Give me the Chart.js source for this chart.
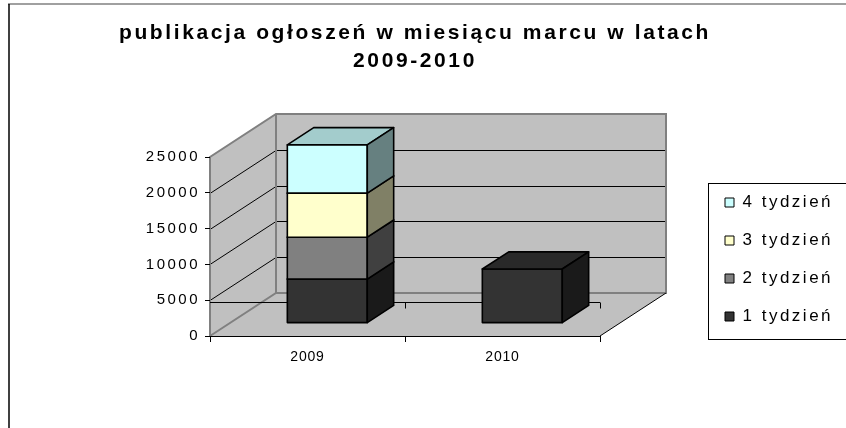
<!DOCTYPE html>
<html>
<head>
<meta charset="utf-8">
<script src="https://cdn.jsdelivr.net/npm/chart.js@4.4.0/dist/chart.umd.min.js"></script>
<style>
  html, body { margin: 0; padding: 0; background: #fff; }
  #wrap { width: 846px; height: 428px; position: relative; }
</style>
</head>
<body>
<div id="wrap"><canvas id="wykres"></canvas></div>
<script>
// dane
var lata = ['2009', '2010'];
var tygodnie = ['1 tydzień', '2 tydzień', '3 tydzień', '4 tydzień'];
var tydzien1 = [6150, 7550];
var tydzien2 = [5850, 0];
var tydzien3 = [6150, 0];
var tydzien4 = [6750, 0];
var osY = [0, 5000, 10000, 15000, 20000, 25000];
var tytul = ['publikacja ogłoszeń w miesiącu marcu w latach', '2009-2010'];

var serie = [tydzien1, tydzien2, tydzien3, tydzien4];

// kolory: przod / gora / bok
var kolory = ['#333333', '#808080', '#FFFFCC', '#CCFFFF'];
var gora = ['#292929', '#666666', '#CCCCA3', '#A3CCCC'];
var bok = ['#1a1a1a', '#404040', '#808066', '#668080'];

// efekt 3d
var GLEB = { dx: 66, dy: -43 };
var BAR_OD = 0.3, BAR_DO = 0.7;

Chart.defaults.font.family = "'Liberation Sans', Arial, sans-serif";
Chart.defaults.color = '#000';

function spacja(obj, metoda, odstep) {
    var orig = obj[metoda];
    obj[metoda] = function () {
        var ctx = this.ctx;
        var stary = ctx.letterSpacing;
        ctx.letterSpacing = odstep;
        var r = orig.apply(this, arguments);
        ctx.letterSpacing = stary;
        return r;
    };
}

function wielokat(ctx, pts) {
    ctx.beginPath();
    ctx.moveTo(pts[0][0], pts[0][1]);
    for (var i = 1; i < pts.length; i++) ctx.lineTo(pts[i][0], pts[i][1]);
    ctx.closePath();
}

var sciany = {
    id: 'sciany',
    afterInit: function (chart) {
        spacja(chart.titleBlock, 'draw', '2.6px');
        spacja(chart.legend, 'draw', '2.5px');
    },
    afterLayout: function (chart) {
        if (!chart.scales.y._sp) {
            spacja(chart.scales.y, 'drawLabels', '2.5px');
            spacja(chart.scales.x, 'drawLabels', '0.8px');
            chart.scales.y._sp = true;
        }
        var lg = chart.legend;
        lg.left = 704; lg.right = chart.width + 40;
        lg.top = 159; lg.bottom = 360;
        lg.width = lg.right - lg.left; lg.height = lg.bottom - lg.top;
    },
    beforeDraw: function (chart) {
        var ctx = chart.ctx, a = chart.chartArea;
        var ys = chart.scales.y, xs = chart.scales.x;
        var L = a.left, R = a.right;
        var T = ys.getPixelForValue(osY[osY.length - 1]);
        var B = ys.getPixelForValue(osY[0]);
        var dx = GLEB.dx, dy = GLEB.dy;
        ctx.save();
        ctx.fillStyle = '#fff';
        ctx.fillRect(0, 0, chart.width, chart.height);

        // ramka
        ctx.lineWidth = 1.5;
        ctx.strokeStyle = '#808080';
        ctx.beginPath(); ctx.moveTo(8, 4); ctx.lineTo(chart.width, 4); ctx.stroke();
        ctx.strokeStyle = '#000';
        ctx.beginPath(); ctx.moveTo(9, 4); ctx.lineTo(9, chart.height); ctx.stroke();

        // sciany i podloga
        ctx.fillStyle = '#c0c0c0';
        wielokat(ctx, [[L, T], [L + dx, T + dy], [L + dx, B + dy], [L, B]]); ctx.fill();
        wielokat(ctx, [[L + dx, T + dy], [R + dx, T + dy], [R + dx, B + dy], [L + dx, B + dy]]); ctx.fill();
        wielokat(ctx, [[L, B], [R, B], [R + dx, B + dy], [L + dx, B + dy]]); ctx.fill();

        // linie siatki
        ctx.strokeStyle = '#000'; ctx.lineWidth = 1;
        for (var k = 1; k < osY.length - 1; k++) {
            var y = Math.round(ys.getPixelForValue(osY[k])) + 0.5;
            ctx.beginPath();
            ctx.moveTo(L, y); ctx.lineTo(L + dx, y + dy); ctx.lineTo(R + dx, y + dy);
            ctx.stroke();
        }

        // krawedzie scian
        ctx.strokeStyle = '#808080'; ctx.lineWidth = 2;
        ctx.beginPath();
        ctx.moveTo(L, B); ctx.lineTo(L, T); ctx.lineTo(L + dx, T + dy); ctx.lineTo(R + dx, T + dy);
        ctx.lineTo(R + dx, B + dy); ctx.lineTo(L + dx, B + dy); ctx.lineTo(L, B);
        ctx.moveTo(L + dx, T + dy); ctx.lineTo(L + dx, B + dy);
        ctx.stroke();

        ctx.strokeStyle = '#000'; ctx.lineWidth = 1;
        ctx.beginPath(); ctx.moveTo(R, B); ctx.lineTo(R + dx, B + dy); ctx.stroke();

        // os kategorii na podlodze
        var yo = Math.round(B + 0.8 * dy) + 0.5;
        var pol = (xs.getPixelForValue(1) - xs.getPixelForValue(0)) / 2;
        ctx.beginPath(); ctx.moveTo(L, yo); ctx.lineTo(R, yo);
        for (var i = 0; i < lata.length; i++) {
            var xt = Math.round(xs.getPixelForValue(i) + pol) + 0.5;
            ctx.moveTo(xt, yo); ctx.lineTo(xt, yo + 6);
        }
        ctx.stroke();
        ctx.restore();
    },
    beforeDatasetsDraw: function (chart) {
        var ctx = chart.ctx;
        var ox = GLEB.dx * (BAR_DO - BAR_OD), oy = GLEB.dy * (BAR_DO - BAR_OD);
        ctx.save();
        ctx.strokeStyle = '#000'; ctx.lineWidth = 1.6; ctx.lineJoin = 'round';
        for (var i = 0; i < chart.data.labels.length; i++) {
            for (var d = 0; d < chart.data.datasets.length; d++) {
                var meta = chart.getDatasetMeta(d);
                if (meta.hidden) continue;
                var p = meta.data[i].getProps(['x', 'y', 'base', 'width'], true);
                if (Math.abs(p.base - p.y) < 0.5) continue;
                var x0 = p.x - p.width / 2 + GLEB.dx * BAR_OD, x1 = p.x + p.width / 2 + GLEB.dx * BAR_OD;
                var yt = p.y + GLEB.dy * BAR_OD, yb = p.base + GLEB.dy * BAR_OD;
                ctx.fillStyle = kolory[d];
                wielokat(ctx, [[x0, yt], [x1, yt], [x1, yb], [x0, yb]]); ctx.fill(); ctx.stroke();
                ctx.fillStyle = gora[d];
                wielokat(ctx, [[x0, yt], [x1, yt], [x1 + ox, yt + oy], [x0 + ox, yt + oy]]); ctx.fill(); ctx.stroke();
                ctx.fillStyle = bok[d];
                wielokat(ctx, [[x1, yt], [x1 + ox, yt + oy], [x1 + ox, yb + oy], [x1, yb]]); ctx.fill(); ctx.stroke();
            }
        }
        ctx.restore();
        return false;
    },
    afterDraw: function (chart) {
        var hb = chart.legend.legendHitBoxes;
        if (!hb || !hb.length) return;
        var ctx = chart.ctx;
        var gora0 = Math.min.apply(null, hb.map(function (h) { return h.top; }));
        var dol = Math.max.apply(null, hb.map(function (h) { return h.top + h.height; }));
        var lewo = hb[0].left - 17;
        ctx.save();
        ctx.strokeStyle = '#000'; ctx.lineWidth = 1;
        ctx.strokeRect(Math.round(lewo) + 0.5, Math.round(gora0 - 11) + 0.5, chart.width, Math.round(dol + 14 - (gora0 - 11)));
        ctx.restore();
    }
};

var ctx = document.getElementById('wykres');

var myChart = new Chart(ctx, {
    type: 'bar',
    data: {
        labels: lata,
        datasets: tygodnie.map(function (t, k) {
            return {
                label: t,
                data: serie[k],
                backgroundColor: kolory[k],
                borderColor: '#000',
                borderWidth: 1,
                barPercentage: 0.41,
                categoryPercentage: 1
            };
        })
    },
    options: {
        responsive: true,
        maintainAspectRatio: false,
        animation: false,
        devicePixelRatio: 1,
        layout: { padding: { left: 0, right: 16, top: 0, bottom: 0 } },
        plugins: {
            title: {
                display: true,
                text: tytul,
                color: '#000',
                font: { size: 21, weight: 'bold', lineHeight: '28px' },
                padding: { top: 19, bottom: 82 }
            },
            legend: {
                position: 'chartArea',
                reverse: true,
                labels: {
                    boxWidth: 9,
                    boxHeight: 9,
                    padding: 21,
                    color: '#000',
                    font: { size: 17 }
                }
            },
            tooltip: { enabled: false }
        },
        scales: {
            x: {
                stacked: true,
                offset: true,
                grid: { display: true, drawOnChartArea: false, drawTicks: true, tickLength: 6, color: '#000', offset: true },
                border: { display: true, color: '#000', width: 1 },
                ticks: { color: '#000', font: { size: 14 }, padding: 7, maxRotation: 0 },
                afterFit: function (s) { s.height = 92; }
            },
            y: {
                stacked: true,
                min: osY[0],
                max: osY[osY.length - 1],
                ticks: {
                    stepSize: osY[1] - osY[0], color: '#000', font: { size: 15 }, padding: 5,
                    callback: function (v) { return String(v); }
                },
                grid: { display: true, drawOnChartArea: false, drawTicks: true, tickLength: 5, color: '#000' },
                border: { display: false },
                afterFit: function (s) { s.width = 210; }
            },
            y2: {
                position: 'right',
                display: true,
                grid: { display: false },
                border: { display: false },
                ticks: { display: false },
                afterFit: function (s) { s.width = 230; }
            }
        }
    },
    plugins: [sciany]
});
</script>
</body>
</html>
